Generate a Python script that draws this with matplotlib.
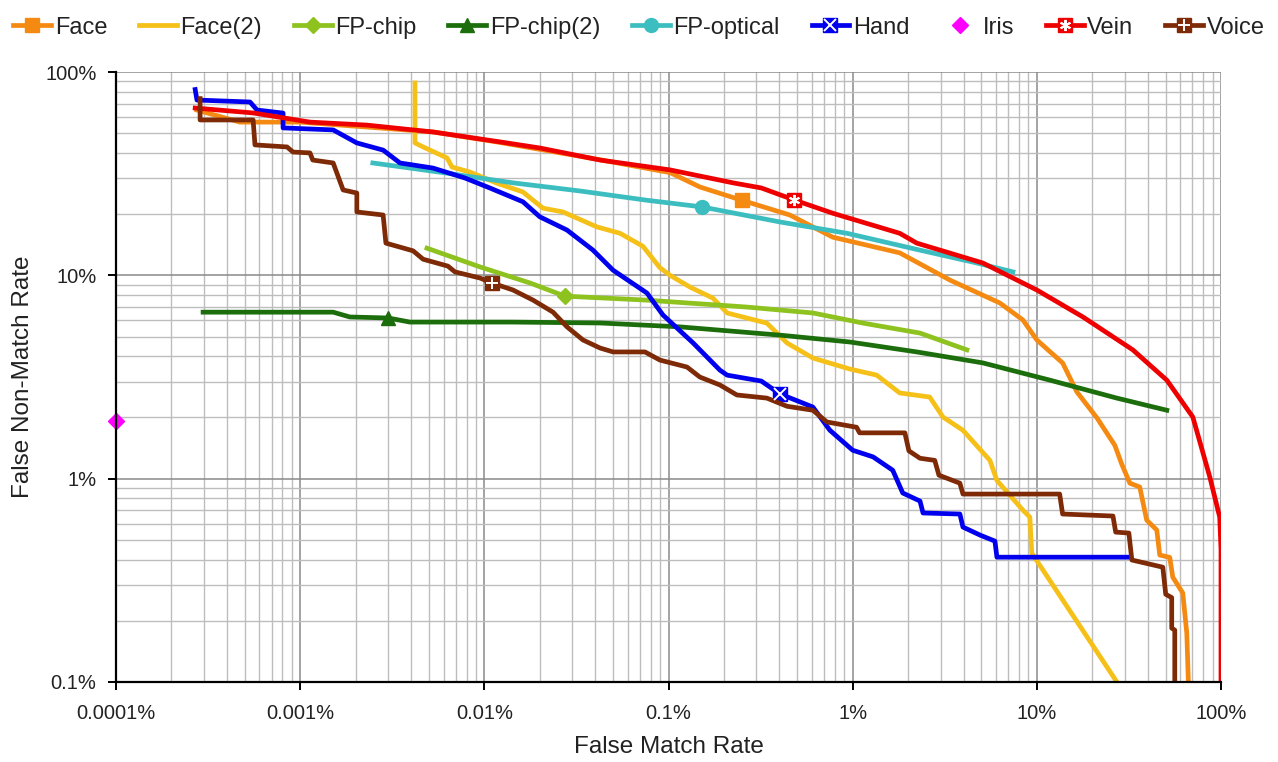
import matplotlib
matplotlib.use("Agg")
import matplotlib.pyplot as plt
from matplotlib.ticker import FixedLocator, FixedFormatter, NullFormatter

plt.rcParams["font.family"] = ["Liberation Sans", "DejaVu Sans"]

# false match rate (%) vs false non-match rate (%)
face_fmr = [2.75e-4, 4.7e-4, 1.0e-3, 5.3e-3, 0.0122, 0.0425, 0.102, 0.148, 0.25, 0.456,
            0.78, 1.8, 3.37, 6.3, 8.4, 10.0, 13.8, 16.5, 21.2, 26.5, 29.0, 32.0, 36.2,
            39.5, 44.8, 46.5, 52.7, 54.7, 62.0, 65.2, 66.5]
face_fnmr = [65, 56.7, 56.7, 50.7, 45, 37, 32, 27.2, 23.4, 19.8, 15.4, 12.9, 9.48, 7.31,
             6.03, 4.81, 3.71, 2.67, 1.99, 1.46, 1.17, 0.95, 0.91, 0.625, 0.559, 0.421,
             0.41, 0.328, 0.274, 0.174, 0.1]

face2_fmr = [4.2e-3, 4.2e-3, 4.65e-3, 6.27e-3, 6.67e-3, 8.35e-3, 0.0117, 0.0162, 0.0208,
             0.0267, 0.0409, 0.0545, 0.0726, 0.0898, 0.102, 0.131, 0.174, 0.208, 0.342,
             0.44, 0.608, 0.966, 1.35, 1.80, 2.62, 3.09, 3.97, 5.56, 6.07, 8.4, 9.16,
             9.39, 27.2]
face2_fnmr = [88.3, 44.8, 42.8, 37.8, 34.1, 32.2, 28.4, 25.7, 21.4, 20.5, 17.3, 16.1, 13.9,
              10.9, 10.0, 8.75, 7.73, 6.53, 5.82, 4.65, 3.92, 3.46, 3.23, 2.64, 2.52, 2.01,
              1.73, 1.23, 0.98, 0.70, 0.647, 0.43, 0.1]

fpchip_fmr = [4.88e-3, 9.47e-3, 0.0177, 0.0274, 0.0764, 0.267, 0.608, 1.14, 2.32, 4.17]
fpchip_fnmr = [13.6, 11.0, 9.17, 7.9, 7.55, 6.98, 6.53, 5.82, 5.2, 4.3]

fpchip2_fmr = [2.97e-4, 1.51e-3, 1.86e-3, 3.0e-3, 3.94e-3, 0.0143, 0.0425, 0.115, 0.403,
               0.966, 2.23, 5.09, 11.8, 27.2, 50.8]
fpchip2_fnmr = [6.59, 6.59, 6.24, 6.17, 5.89, 5.89, 5.83, 5.58, 5.08, 4.70, 4.2, 3.71,
                3.05, 2.49, 2.17]

fpopt_fmr = [2.48e-3, 6.27e-3, 0.0143, 0.033, 0.0764, 0.152, 0.403, 0.93, 2.32, 4.72, 7.41]
fpopt_fnmr = [35.7, 31.8, 28.5, 26.0, 23.4, 21.7, 18.3, 16.1, 13.3, 11.5, 10.4]

hand_fmr = [2.69e-4, 2.75e-4, 5.34e-4, 5.83e-4, 8.07e-4, 8.07e-4, 1.51e-3, 2.03e-3,
            2.82e-3, 3.48e-3, 5.26e-3, 7.85e-3, 0.0107, 0.0162, 0.020, 0.0281, 0.0389,
            0.050, 0.0764, 0.0933, 0.136, 0.190, 0.208, 0.319, 0.403, 0.608, 0.752, 1.0,
            1.29, 1.65, 1.87, 2.32, 2.41, 3.82, 3.97, 4.91, 5.92, 6.07, 32.0]
hand_fnmr = [82, 72.8, 71.2, 65.0, 62.8, 53.1, 51.9, 44.8, 41.3, 35.7, 33.7, 30.1, 26.9,
             23.0, 19.4, 16.7, 13.3, 10.6, 8.18, 6.38, 4.65, 3.42, 3.23, 3.02, 2.61, 2.25,
             1.73, 1.38, 1.28, 1.10, 0.85, 0.776, 0.678, 0.67, 0.578, 0.528, 0.493,
             0.411, 0.411]

iris_fmr = [1e-4]
iris_fnmr = [1.92]

vein_fmr = [2.69e-4, 5.55e-4, 1.13e-3, 2.31e-3, 5.26e-3, 0.0122, 0.020, 0.0425, 0.102,
            0.224, 0.319, 0.48, 0.78, 1.80, 2.23, 5.09, 10.0, 17.8, 33.2, 50.8, 70.3,
            86.9, 98.4, 100, 100]
vein_fnmr = [66.5, 62.9, 56.7, 54.8, 50.7, 45.3, 42.3, 36.9, 33.0, 28.5, 26.9, 23.5, 20.2,
             16.1, 14.4, 11.5, 8.47, 6.24, 4.30, 3.05, 2.01, 1.02, 0.647, 0.45, 0.1]

voice_fmr = [2.86e-4, 2.86e-4, 5.55e-4, 5.68e-4, 8.48e-4, 9.14e-4, 1.13e-3, 1.17e-3,
             1.51e-3, 1.71e-3, 2.03e-3, 2.03e-3, 2.82e-3, 2.92e-3, 4.1e-3, 4.65e-3,
             6.34e-3, 6.92e-3, 9.47e-3, 0.011, 0.0143, 0.0184, 0.0236, 0.0281, 0.0343,
             0.0425, 0.05, 0.0745, 0.0898, 0.126, 0.148, 0.19, 0.235, 0.342, 0.44, 0.608,
             0.724, 1.05, 1.09, 1.92, 2.02, 2.32, 2.79, 2.94, 3.82, 3.97, 13.3, 13.8, 25.9,
             26.8, 31.6, 32.8, 48.3, 50.1, 54.0, 54.0, 56.1, 56.1]
voice_fnmr = [74, 58.1, 58.1, 43.8, 42.8, 40.4, 40.0, 36.9, 35.7, 26.3, 25.4, 20.5, 19.8,
              14.4, 13.2, 12.0, 11.1, 10.4, 9.7, 9.17, 8.47, 7.55, 6.59, 5.58, 4.81, 4.39,
              4.2, 4.2, 3.83, 3.54, 3.16, 2.89, 2.58, 2.49, 2.27, 2.17, 1.90, 1.79, 1.68,
              1.68, 1.37, 1.26, 1.23, 1.04, 0.95, 0.84, 0.84, 0.67, 0.655, 0.546, 0.54,
              0.398, 0.367, 0.27, 0.26, 0.184, 0.18, 0.1]

x_ticks = [1e-4, 1e-3, 1e-2, 1e-1, 1, 10, 100]
x_labels = ["0.0001%", "0.001%", "0.01%", "0.1%", "1%", "10%", "100%"]
y_ticks = [0.1, 1, 10, 100]
y_labels = ["0.1%", "1%", "10%", "100%"]

# label, x, y, colour, marker, marker index, overlay glyph on the marker
SERIES = [
    ("Face", face_fmr, face_fnmr, "#F58A12", "s", 8, None),
    ("Face(2)", face2_fmr, face2_fnmr, "#F5C018", None, None, None),
    ("FP-chip", fpchip_fmr, fpchip_fnmr, "#8DC21F", "D", 3, None),
    ("FP-chip(2)", fpchip2_fmr, fpchip2_fnmr, "#1C6E0C", "^", 3, None),
    ("FP-optical", fpopt_fmr, fpopt_fnmr, "#3CBEC0", "o", 5, None),
    ("Hand", hand_fmr, hand_fnmr, "#0000EE", "s", 24, "x"),
    ("Iris", iris_fmr, iris_fnmr, "#FF00FF", "D", 0, None),
    ("Vein", vein_fmr, vein_fnmr, "#EE0000", "s", 11, (6, 2, 0)),
    ("Voice", voice_fmr, voice_fnmr, "#7E2A06", "s", 19, "+"),
]

fig = plt.figure(figsize=(12.78, 7.62), dpi=100)
ax = fig.add_axes([0.0908, 0.105, 0.8646, 0.8005])

handles = []
for label, xs, ys, color, marker, mi, glyph in SERIES:
    is_point = label == "Iris"
    ms = 8 if marker == "D" else 10
    (ln,) = ax.plot(xs, ys, color=color, lw=0 if is_point else 3.4,
                    ls="none" if is_point else "-",
                    marker=marker, markevery=[mi] if mi is not None else None,
                    ms=ms, mec=color, mfc=color, clip_on=not is_point, zorder=3)
    h = ln
    if glyph is not None:
        (ov,) = ax.plot([xs[mi]], [ys[mi]], ls="none", marker=glyph, ms=8,
                        mew=1.4, color="white", zorder=4)
        h = (ln, ov)
    handles.append(h)

ax.set_xscale("log")
ax.set_yscale("log")
ax.set_xlim(1e-4, 100)
ax.set_ylim(0.1, 100)

ax.xaxis.set_major_locator(FixedLocator(x_ticks))
ax.xaxis.set_major_formatter(FixedFormatter(x_labels))
ax.yaxis.set_major_locator(FixedLocator(y_ticks))
ax.yaxis.set_major_formatter(FixedFormatter(y_labels))
minors_x = [m * 10.0 ** e for e in range(-4, 2) for m in range(2, 10)]
minors_y = [m * 10.0 ** e for e in range(-1, 2) for m in range(2, 10)]
ax.xaxis.set_minor_locator(FixedLocator(minors_x))
ax.yaxis.set_minor_locator(FixedLocator(minors_y))
ax.xaxis.set_minor_formatter(NullFormatter())
ax.yaxis.set_minor_formatter(NullFormatter())

ax.grid(which="major", color="#8a8a8a", lw=1.1, zorder=0)
ax.grid(which="minor", color="#bdbdbd", lw=1.0, zorder=0)
ax.set_axisbelow(True)

for side in ("top", "right"):
    ax.spines[side].set_visible(False)
for side in ("left", "bottom"):
    ax.spines[side].set_linewidth(1.6)
    ax.spines[side].set_color("black")
    ax.spines[side].set_zorder(5)

ax.tick_params(which="major", direction="out", length=6, width=1.4, color="black",
               labelsize=14.5, labelcolor="#222222")
ax.tick_params(axis="x", which="major", pad=10)
ax.tick_params(axis="y", which="major", pad=8)
ax.tick_params(which="minor", length=0)

ax.set_xlabel("False Match Rate", fontsize=17.5, color="#222222")
ax.set_ylabel("False Non-Match Rate", fontsize=17.5, color="#222222")
ax.xaxis.set_label_coords(0.5, -0.088)
ax.yaxis.set_label_coords(-0.074, 0.5)

fig.legend(handles, [s[0] for s in SERIES], loc="upper center", ncol=9,
           bbox_to_anchor=(0.5, 1.0), frameon=False, fontsize=17,
           handlelength=1.6, handletextpad=0.15, columnspacing=1.35,
           borderaxespad=0.3, labelcolor="#222222")

fig.savefig("out.png", dpi=100)
